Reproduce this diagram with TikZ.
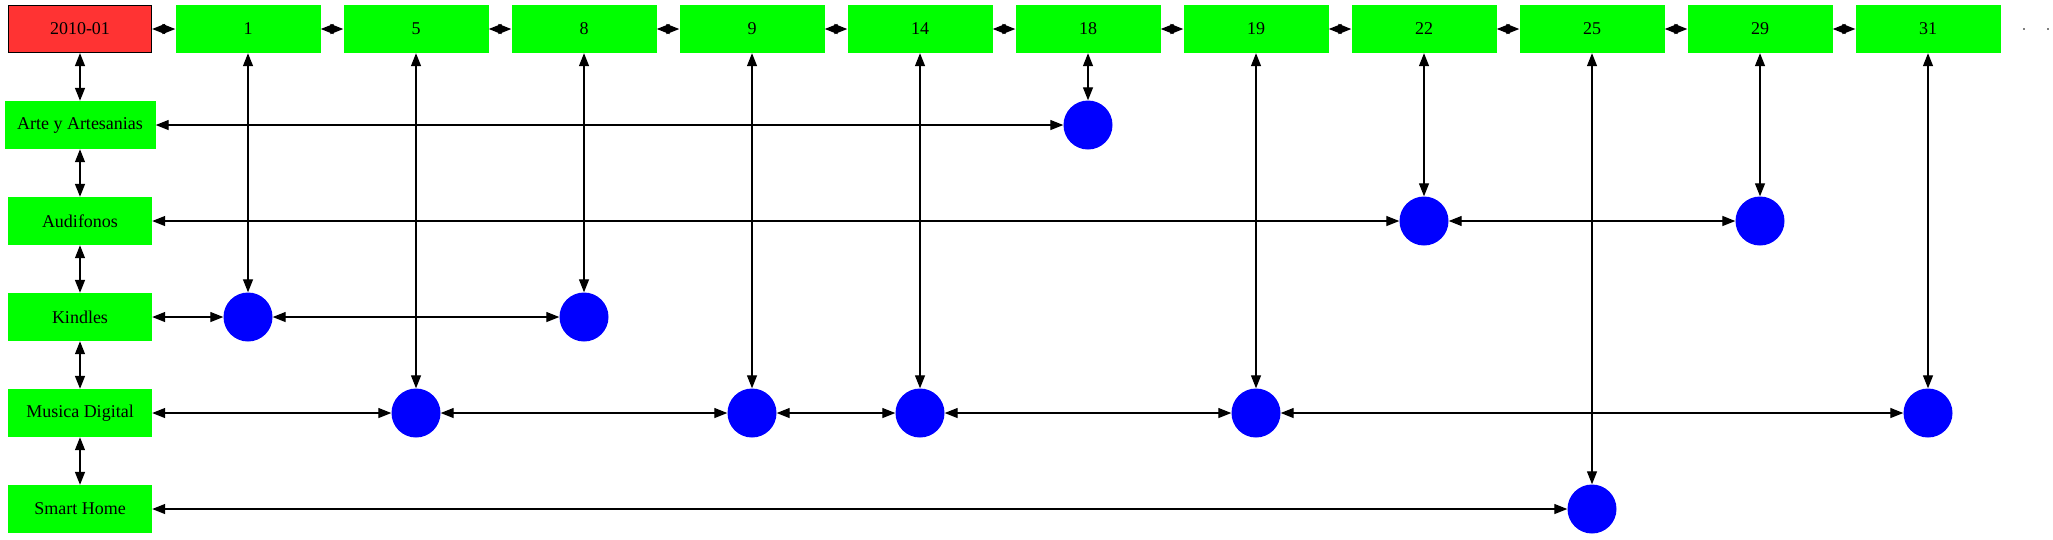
\documentclass[tikz,border=0pt]{standalone}
\usepackage{fontspec}
\setmainfont{Liberation Serif}
\usetikzlibrary{arrows.meta}
\definecolor{gvred}{HTML}{FF3333}
\definecolor{gvgreen}{HTML}{00FF00}
\definecolor{gvblue}{HTML}{0000FF}
\tikzset{
  box/.style={rectangle, fill=gvgreen, draw=none, minimum width=145pt, minimum height=48pt, inner sep=0pt, font=\fontsize{18pt}{20pt}\selectfont},
  datebox/.style={box, fill=gvred, draw=black, line width=1.2pt, minimum width=143pt, minimum height=47pt},
  rowbox/.style={box, minimum width=144pt},
  dot/.style={circle, fill=gvblue, draw=none, minimum size=49pt, inner sep=0pt},
  link/.style={draw=black, line width=1.3pt, {Triangle[length=13pt,width=10pt]}-{Triangle[length=13pt,width=10pt]}},
  tiny/.style={rectangle, fill=gray, minimum width=2pt, minimum height=2pt, inner sep=0pt}
}
\begin{document}
\begin{tikzpicture}[x=1pt,y=-1pt]
\useasboundingbox (0,0) rectangle (2053,539);
% header row
\node[datebox] (d) at (80,29) {2010-01};
\node[box] (h1) at (248,29) {1};
\node[box] (h5) at (416,29) {5};
\node[box] (h8) at (584,29) {8};
\node[box] (h9) at (752,29) {9};
\node[box] (h14) at (920,29) {14};
\node[box] (h18) at (1088,29) {18};
\node[box] (h19) at (1256,29) {19};
\node[box] (h22) at (1424,29) {22};
\node[box] (h25) at (1592,29) {25};
\node[box] (h29) at (1760,29) {29};
\node[box] (h31) at (1928,29) {31};
\node[tiny] (e1) at (2024,29) {};
\node[tiny] (e2) at (2048,29) {};
% row labels
\node[rowbox, minimum width=151pt] (arte) at (80,125) {Arte y Artesanias};
\node[rowbox] (aud) at (80,221) {Audifonos};
\node[rowbox] (kin) at (80,317) {Kindles};
\node[rowbox] (mus) at (80,413) {Musica Digital};
\node[rowbox] (sma) at (80,509) {Smart Home};
% circles
\node[dot] (a18) at (1088,125) {};
\node[dot] (u22) at (1424,221) {};
\node[dot] (u29) at (1760,221) {};
\node[dot] (k1) at (248,317) {};
\node[dot] (k8) at (584,317) {};
\node[dot] (m5) at (416,413) {};
\node[dot] (m9) at (752,413) {};
\node[dot] (m14) at (920,413) {};
\node[dot] (m19) at (1256,413) {};
\node[dot] (m31) at (1928,413) {};
\node[dot] (s25) at (1592,509) {};
% header chain
\draw[link] (d) -- (h1);
\draw[link] (h1) -- (h5);
\draw[link] (h5) -- (h8);
\draw[link] (h8) -- (h9);
\draw[link] (h9) -- (h14);
\draw[link] (h14) -- (h18);
\draw[link] (h18) -- (h19);
\draw[link] (h19) -- (h22);
\draw[link] (h22) -- (h25);
\draw[link] (h25) -- (h29);
\draw[link] (h29) -- (h31);
% left chain
\draw[link] (d) -- (arte);
\draw[link] (arte) -- (aud);
\draw[link] (aud) -- (kin);
\draw[link] (kin) -- (mus);
\draw[link] (mus) -- (sma);
% verticals
\draw[link] (h1) -- (k1);
\draw[link] (h5) -- (m5);
\draw[link] (h8) -- (k8);
\draw[link] (h9) -- (m9);
\draw[link] (h14) -- (m14);
\draw[link] (h18) -- (a18);
\draw[link] (h19) -- (m19);
\draw[link] (h22) -- (u22);
\draw[link] (h25) -- (s25);
\draw[link] (h29) -- (u29);
\draw[link] (h31) -- (m31);
% horizontals
\draw[link] (arte) -- (a18);
\draw[link] (aud) -- (u22);
\draw[link] (u22) -- (u29);
\draw[link] (kin) -- (k1);
\draw[link] (k1) -- (k8);
\draw[link] (mus) -- (m5);
\draw[link] (m5) -- (m9);
\draw[link] (m9) -- (m14);
\draw[link] (m14) -- (m19);
\draw[link] (m19) -- (m31);
\draw[link] (sma) -- (s25);
\end{tikzpicture}
\end{document}
